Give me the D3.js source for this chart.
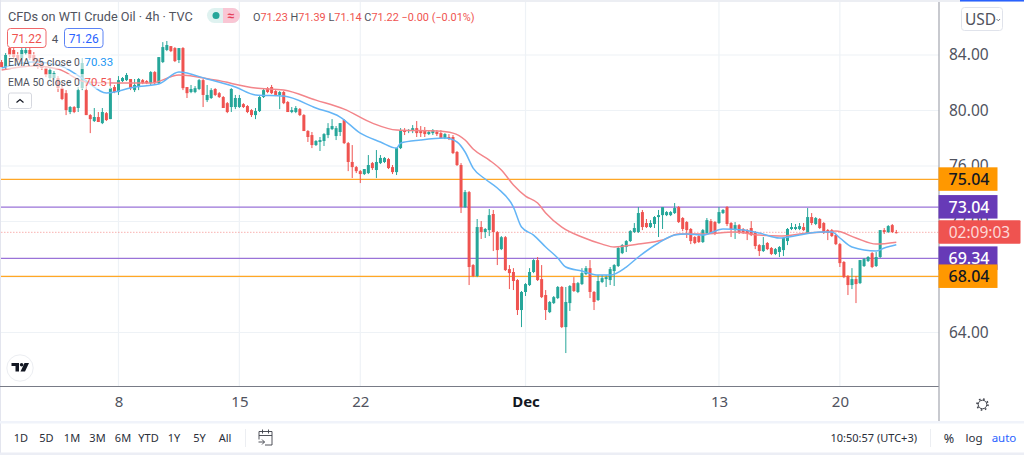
<!DOCTYPE html>
<html>
<head>
<meta charset="utf-8">
<script src="https://cdn.jsdelivr.net/npm/d3@7"></script>
<style>
  html, body { margin: 0; padding: 0; background: #fff; overflow: hidden; }
  svg { display: block; font-family: "Noto Sans", sans-serif; }
  .small { font-family: Roboto, sans-serif; }
</style>
</head>
<body>
<svg id="chart" width="1024" height="455"></svg>
<script>
// 4h candles, one value per bar
const opens = [83.49,83.13,84.50,84.36,84.00,83.78,84.14,84.36,84.00,83.64,
  83.50,83.06,82.34,82.34,82.34,81.61,81.25,79.89,80.25,80.18,
  81.61,81.47,79.67,79.24,79.53,79.09,79.81,79.38,81.69,81.33,
  82.12,82.19,82.27,81.47,81.69,82.19,82.12,81.97,82.77,81.97,
  83.49,84.36,84.64,84.50,83.64,84.50,81.69,81.33,81.33,81.55,
  82.19,80.75,80.90,81.55,81.25,80.97,80.53,80.25,80.25,80.25,
  80.46,80.32,80.03,79.67,79.96,80.97,81.61,81.69,81.40,81.12,
  81.33,80.61,79.89,79.89,80.10,79.67,78.52,78.23,77.51,77.73,
  77.80,78.23,78.66,78.16,78.45,79.31,77.65,76.29,75.92,75.63,
  75.42,75.49,76.21,75.71,76.21,76.29,76.50,75.92,75.56,77.29,
  78.59,78.52,78.52,78.73,78.52,78.52,78.30,78.37,78.45,78.37,
  78.01,78.09,78.09,77.01,76.07,73.04,74.12,68.86,68.07,71.60,
  71.24,71.38,72.54,71.24,70.01,70.87,68.57,68.36,67.78,65.62,
  66.92,67.42,68.36,69.22,67.85,66.70,65.47,66.12,66.48,67.28,
  64.39,66.12,67.56,66.92,67.49,68.21,68.64,66.92,66.34,67.64,
  67.85,67.78,68.43,68.79,69.72,70.16,70.59,71.24,71.24,72.68,
  71.89,71.60,71.82,72.32,72.46,72.46,72.46,72.61,73.04,72.25,
  71.96,71.46,70.88,70.95,70.52,71.17,72.03,71.96,71.89,72.61,
  73.04,71.89,71.38,71.74,71.46,71.38,71.53,71.24,70.30,69.87,
  70.45,70.09,69.66,69.80,69.94,70.59,71.46,71.46,71.46,71.60,
  71.17,72.32,71.82,72.18,71.89,71.38,71.38,71.02,70.37,69.08,
  68.07,67.42,67.85,67.56,68.79,69.15,69.72,68.79,69.44,71.38,
  71.24,71.74,71.23];
const highs = [83.64,84.14,84.64,84.50,84.21,84.57,84.64,84.57,84.21,83.78,
  83.64,83.20,83.06,82.84,82.48,81.97,81.47,80.32,80.32,81.69,
  83.78,82.19,79.74,80.18,79.89,80.18,79.89,81.97,81.84,82.48,
  82.41,82.70,82.27,82.27,82.34,82.27,82.19,82.84,82.84,83.85,
  84.93,85.01,84.64,84.57,84.50,84.57,81.69,81.84,81.76,82.27,
  82.27,81.84,81.61,81.61,81.33,81.04,80.61,81.61,81.12,81.12,
  80.53,80.39,80.10,80.18,81.04,81.55,81.69,81.84,81.47,81.40,
  81.40,80.68,80.25,80.32,80.18,79.74,78.59,78.45,77.87,78.09,
  78.37,79.09,79.38,78.88,79.09,79.38,77.73,77.51,76.00,75.71,
  75.78,76.79,76.29,77.15,76.79,76.65,76.58,76.07,77.29,78.73,
  78.73,78.66,78.95,79.24,78.88,78.81,78.59,78.66,78.59,78.59,
  78.37,78.30,78.23,77.08,76.21,74.27,74.20,68.93,72.18,72.03,
  71.53,72.90,72.83,71.31,70.95,70.95,68.86,68.64,67.85,66.99,
  67.56,68.64,69.29,69.44,68.86,67.06,66.27,66.63,67.35,67.35,
  67.28,67.42,67.99,67.64,68.64,68.79,69.22,66.99,68.14,68.14,
  68.14,68.72,68.93,70.16,70.37,70.66,71.38,71.89,73.04,72.83,
  72.18,72.10,72.39,72.83,73.04,72.75,72.75,73.33,73.11,72.32,
  72.03,71.53,70.95,71.02,71.46,72.25,72.18,72.03,73.04,72.90,
  73.11,71.96,71.96,71.82,71.53,71.46,72.03,71.31,70.37,70.88,
  70.52,70.16,70.09,70.23,70.81,71.53,71.89,71.82,71.89,71.89,
  72.97,72.61,72.32,72.25,71.96,71.46,71.46,71.10,70.45,69.15,
  68.14,68.64,68.07,69.22,69.37,69.51,69.80,69.80,71.38,71.53,
  71.74,71.82,71.39];
const lows = [83.13,82.99,83.85,83.71,83.49,83.64,84.00,83.64,83.28,82.99,
  82.92,82.41,82.19,82.19,81.33,80.75,79.67,79.74,79.81,79.89,
  81.47,79.67,78.37,79.17,79.17,79.02,79.24,79.38,81.25,81.12,
  82.05,82.12,81.47,81.33,81.47,81.90,81.90,81.84,81.90,81.90,
  83.42,84.28,84.21,83.49,83.42,81.47,80.90,81.25,81.25,81.47,
  80.25,80.61,80.83,81.04,80.90,80.18,79.81,79.89,80.10,80.18,
  80.18,79.81,79.53,79.38,79.89,80.90,81.25,81.18,81.04,80.10,
  80.46,79.89,79.81,79.81,79.60,78.52,77.73,77.29,77.44,77.08,
  77.44,78.01,78.59,77.87,78.16,77.58,75.63,75.13,75.49,74.77,
  75.35,75.42,75.71,75.13,76.14,76.21,75.78,75.42,75.35,77.22,
  78.23,78.37,78.37,78.09,78.09,78.09,78.23,78.23,78.16,78.01,
  77.94,77.87,76.86,76.00,72.61,72.97,67.42,67.99,67.99,70.74,
  70.81,70.95,69.87,68.86,69.94,68.43,67.13,67.06,65.26,64.39,
  66.63,67.35,68.28,67.71,66.48,64.90,65.40,66.05,66.41,64.32,
  62.52,65.55,66.92,66.84,67.42,68.14,66.48,65.62,66.27,67.56,
  67.28,67.42,67.35,68.72,69.65,69.80,70.52,71.17,71.17,71.38,
  71.53,71.53,71.53,70.88,71.46,72.39,72.39,72.54,71.89,71.31,
  70.81,70.37,70.37,70.45,70.45,71.10,71.17,71.02,71.82,72.54,
  71.67,70.88,70.74,71.10,71.10,70.66,70.95,70.01,69.51,69.80,
  69.94,69.58,69.58,69.44,69.51,70.30,71.38,71.38,71.38,71.31,
  71.10,71.74,71.74,71.46,71.10,70.66,70.88,70.30,68.72,67.92,
  66.70,67.13,66.12,67.49,68.72,69.08,68.64,68.72,69.37,71.10,
  71.17,71.17,71.14];
const closes = [83.13,84.00,84.00,83.85,83.64,84.36,84.36,83.78,83.42,83.13,
  83.06,82.56,82.92,82.70,81.61,80.83,80.03,80.25,79.89,81.47,
  83.42,79.67,79.38,79.53,79.17,79.89,79.31,81.61,81.33,82.19,
  82.34,82.56,81.61,81.84,82.27,81.97,81.97,82.77,81.97,83.85,
  84.57,84.72,84.28,83.56,84.50,81.61,81.25,81.55,81.61,82.19,
  81.12,81.12,81.47,81.12,80.97,80.18,79.89,81.55,80.90,80.90,
  80.25,79.89,79.67,79.96,80.97,81.47,81.33,81.25,81.12,81.33,
  80.53,79.89,80.03,80.18,79.67,78.52,78.09,77.51,77.80,77.87,
  78.30,78.73,78.88,78.73,79.09,77.65,76.29,75.92,75.63,75.42,
  75.78,76.07,75.85,76.29,76.58,76.58,75.85,75.56,77.29,78.59,
  78.45,78.59,78.73,78.37,78.37,78.30,78.45,78.59,78.30,78.01,
  78.30,78.01,76.93,76.07,73.04,74.12,68.72,68.07,71.60,71.24,
  71.46,72.46,71.24,69.94,70.87,68.50,68.28,67.71,65.62,66.92,
  67.49,68.36,69.22,67.78,66.55,65.62,66.20,66.55,67.28,64.39,
  66.20,67.35,66.99,67.56,68.28,68.64,66.92,66.20,67.71,67.92,
  67.99,68.57,68.86,70.09,70.30,70.59,71.31,71.53,72.61,71.60,
  71.60,71.89,72.32,72.46,73.04,72.68,72.68,72.97,71.96,71.46,
  71.38,70.59,70.45,70.52,71.38,72.10,71.17,71.10,72.68,72.83,
  71.82,71.46,71.74,71.17,71.17,71.17,71.02,70.23,69.87,70.30,
  70.01,69.66,70.01,70.16,70.81,71.46,71.60,71.60,71.67,71.38,
  72.32,71.89,72.25,71.53,71.17,71.17,70.95,70.37,69.00,67.99,
  67.42,67.85,67.49,69.22,69.29,69.44,68.72,69.44,71.38,71.24,
  71.67,71.24,71.22];

// EMA readings, each at the bar listed beside it
const ema25Bars = [0,8,14,20,26,33,39,44,51,58,63,70,78,84,89,94,98,99,104,110,113,115,117,120,123,127,129,132,135,138,140,144,148,151,155,158,163,167,170,174,179,184,188,193,198,203,206,208,211,217,219,222];
const ema25 = [83.06,83.49,83.28,82.34,81.26,81.69,81.91,82.77,82.27,81.69,81.12,81.04,80.18,79.53,78.37,77.73,77.29,77.65,77.87,78.01,77.73,77.01,75.85,75.06,74.41,73.04,71.60,71.02,70.16,69.37,68.72,68.43,68.14,68.14,68.72,69.44,70.45,71.02,71.10,71.02,71.46,71.38,71.17,70.81,71.02,71.24,71.24,70.81,70.16,69.87,70.09,70.33];
const ema50Bars = [0,8,14,21,28,37,44,53,63,70,78,85,92,98,108,112,115,117,121,124,127,130,133,135,139,144,149,152,158,164,168,174,182,188,193,200,204,207,212,217,222];
const ema50 = [82.92,83.20,82.99,82.05,81.98,81.98,82.55,82.19,81.62,81.47,80.75,80.10,79.09,78.59,78.52,78.37,77.87,77.22,76.43,75.71,74.63,73.83,73.33,72.61,71.60,70.88,70.37,70.16,70.37,70.66,71.10,71.10,71.24,71.02,70.95,71.17,71.24,71.31,70.81,70.37,70.51];

// horizontal levels and their price tags
const levelPrices = [75.04, 73.04, 69.34, 68.04];
const levelKinds = ["orange", "purple", "purple", "orange"];
const lastPrice = 71.22;
const countdown = "02:09:03";

const priceTicks = [84, 80, 76, 72, 68, 64];
// 68.00 is covered by the 68.04 tag, so it gets no label
const priceLabels = [84, 80, 76, 72, 64];
const timeTickBars = [29, 59, 89, 130, 178, 208];
const timeTickLabels = ["8", "15", "22", "Dec", "13", "20"];

const rangeButtons = ["1D", "5D", "1M", "3M", "6M", "YTD", "1Y", "5Y", "All"];

const width = 1024;
const height = 455;
const plotRight = 939;
const plotBottom = 386.5;

const red = "#ef5350";
const green = "#26a69a";

const svg = d3.select("#chart");

const x = d3.scaleLinear().domain([0, 222]).range([1.6, 896.3]);
const y = d3.scaleLinear().domain([64, 84]).range([332.5, 55]);

const levelStroke = d3.scaleOrdinal(["orange", "purple"], ["#ffa726", "#9a73d8"]);
const tagFill = d3.scaleOrdinal(["orange", "purple"], ["#ff9800", "#673ab7"]);
const tagText = d3.scaleOrdinal(["orange", "purple"], ["#131722", "#ffffff"]);

// frame around the widget
svg.append("rect").attr("x", 0).attr("y", 0).attr("width", width).attr("height", 2).attr("fill", "#eceef3");
svg.append("rect").attr("x", 960).attr("y", 0).attr("width", 64).attr("height", 1.5).attr("fill", "#2962ff");
svg.append("rect").attr("x", 0).attr("y", 0).attr("width", 1).attr("height", height).attr("fill", "#e3e5ee");
svg.append("rect").attr("x", 0).attr("y", 421).attr("width", width).attr("height", 2.5).attr("fill", "#f0f3fa");
svg.append("rect").attr("x", 0).attr("y", 452.5).attr("width", width).attr("height", 2.5).attr("fill", "#eceef5");

// grid
svg.append("g")
  .selectAll("line")
  .data(priceTicks)
  .join("line")
  .attr("x1", 1)
  .attr("x2", plotRight)
  .attr("y1", (d) => y(d))
  .attr("y2", (d) => y(d))
  .attr("stroke", "#eef2f6")
  .attr("stroke-width", 1.2);

svg.append("g")
  .selectAll("line")
  .data(timeTickBars)
  .join("line")
  .attr("x1", (d) => x(d))
  .attr("x2", (d) => x(d))
  .attr("y1", 2)
  .attr("y2", plotBottom)
  .attr("stroke", "#eef2f6")
  .attr("stroke-width", 1.2);

// level lines sit under the candles
svg.append("g")
  .selectAll("line")
  .data(levelPrices)
  .join("line")
  .attr("x1", 1)
  .attr("x2", plotRight)
  .attr("y1", (d) => y(d))
  .attr("y2", (d) => y(d))
  .attr("stroke", (d, i) => levelStroke(levelKinds[i]))
  .attr("stroke-width", 1.2);

svg.append("line")
  .attr("x1", 1)
  .attr("x2", plotRight)
  .attr("y1", y(lastPrice))
  .attr("y2", y(lastPrice))
  .attr("stroke", red)
  .attr("stroke-opacity", 0.45)
  .attr("stroke-dasharray", "1.5 1.5");

// candles
const bars = d3.range(opens.length);
const candles = svg.append("g");

candles
  .selectAll("line")
  .data(bars)
  .join("line")
  .attr("x1", (i) => x(i))
  .attr("x2", (i) => x(i))
  .attr("y1", (i) => y(highs[i]))
  .attr("y2", (i) => y(lows[i]))
  .attr("stroke", (i) => (closes[i] >= opens[i] ? green : red))
  .attr("stroke-width", 1);

candles
  .selectAll("rect")
  .data(bars)
  .join("rect")
  .attr("x", (i) => x(i) - 1.5)
  .attr("width", 3)
  .attr("y", (i) => y(Math.max(opens[i], closes[i])))
  .attr("height", (i) => Math.max(1, Math.abs(y(opens[i]) - y(closes[i]))))
  .attr("fill", (i) => (closes[i] >= opens[i] ? green : red));

// EMA lines
const emaLine = (barIdx) =>
  d3
    .line()
    .x((d, i) => x(barIdx[i]))
    .y((d) => y(d))
    .curve(d3.curveMonotoneX);

svg.append("path")
  .datum(ema50)
  .attr("fill", "none")
  .attr("stroke", "#f3858a")
  .attr("stroke-width", 1.5)
  .attr("d", emaLine(ema50Bars));

svg.append("path")
  .datum(ema25)
  .attr("fill", "none")
  .attr("stroke", "#64b5f6")
  .attr("stroke-width", 1.5)
  .attr("d", emaLine(ema25Bars));

// axis lines
svg.append("line").attr("x1", 0).attr("x2", plotRight).attr("y1", plotBottom).attr("y2", plotBottom).attr("stroke", "#787b86");
svg.append("line").attr("x1", plotRight).attr("x2", plotRight).attr("y1", 2).attr("y2", 421).attr("stroke", "#a3a6af").attr("stroke-width", 1.2);

// price axis
const yAxis = svg.append("g")
  .attr("transform", `translate(${plotRight},0)`)
  .call(d3.axisRight(y).tickValues(priceLabels).tickSize(0).tickPadding(10).tickFormat(d3.format(".2f")));
yAxis.select(".domain").remove();
yAxis.selectAll("text")
  .attr("fill", "#50535e")
  .style("font-family", '"Noto Sans", sans-serif')
  .style("font-size", "15.5px");

// time axis
const xAxis = svg.append("g")
  .attr("transform", `translate(0,${plotBottom})`)
  .call(d3.axisBottom(x).tickValues(timeTickBars).tickSize(0).tickPadding(10).tickFormat((d, i) => timeTickLabels[i]));
xAxis.select(".domain").remove();
xAxis.selectAll("text")
  .attr("fill", (d, i) => (timeTickLabels[i] === "Dec" ? "#131722" : "#50535e"))
  .style("font-family", '"Noto Sans", sans-serif')
  .style("font-weight", (d, i) => (timeTickLabels[i] === "Dec" ? 700 : 400))
  .style("font-size", "15px");

// price tags on the scale
const tags = svg.append("g");
tags.selectAll("rect")
  .data(levelPrices)
  .join("rect")
  .attr("x", plotRight - 0.5)
  .attr("y", (d) => y(d) - 12)
  .attr("width", 59)
  .attr("height", 23.5)
  .attr("fill", (d, i) => tagFill(levelKinds[i]));
tags.selectAll("text")
  .data(levelPrices)
  .join("text")
  .attr("x", plotRight + 30)
  .attr("y", (d) => y(d) + 6)
  .attr("text-anchor", "middle")
  .attr("font-size", 16)
  .attr("font-weight", 500)
  .attr("fill", (d, i) => tagText(levelKinds[i]))
  .text((d) => d.toFixed(2));

svg.append("rect")
  .attr("x", plotRight - 0.5)
  .attr("y", y(lastPrice) - 12)
  .attr("width", 82)
  .attr("height", 23.5)
  .attr("rx", 1)
  .attr("fill", red);
svg.append("text")
  .attr("x", plotRight + 40.5)
  .attr("y", y(lastPrice) + 5.5)
  .attr("text-anchor", "middle")
  .attr("font-size", 15.5)
  .attr("fill", "#fdd8d7")
  .text(countdown);

// USD button
svg.append("rect").attr("x", 961.5).attr("y", 7.5).attr("width", 41).attr("height", 23).attr("rx", 3).attr("fill", "#fff").attr("stroke", "#e0e3eb");
svg.append("text").attr("x", 965).attr("y", 25).attr("font-size", 15.5).attr("fill", "#50535e").text("USD");
svg.append("path").attr("d", "M996.5 19 l1.8 1.8 l1.8 -1.8").attr("fill", "none").attr("stroke", "#50535e").attr("stroke-width", 0.8);

// title row
svg.append("text").attr("class", "small").attr("x", 8).attr("y", 21).attr("font-size", 12.7).attr("fill", "#50535e").text("CFDs on WTI Crude Oil · 4h · TVC");
svg.append("rect").attr("x", 207).attr("y", 8).attr("width", 33).attr("height", 15).attr("rx", 7.5).attr("fill", "#dff2f0");
svg.append("path").attr("d", "M223 8 h9.5 a7.5 7.5 0 0 1 0 15 h-9.5 z").attr("fill", "#f9c6d4");
svg.append("circle").attr("cx", 216).attr("cy", 15.5).attr("r", 3.5).attr("fill", green);
svg.append("text").attr("x", 231).attr("y", 19.5).attr("text-anchor", "middle").attr("font-size", 12).attr("font-weight", 700).attr("fill", "#e53e58").text("≈");

const ohlcText = svg.append("text").attr("class", "small").attr("x", 253).attr("y", 20.5).attr("font-size", 10.9).attr("fill", "#50535e");
ohlcText.append("tspan").text("O");
ohlcText.append("tspan").attr("fill", red).text("71.23");
ohlcText.append("tspan").text(" H");
ohlcText.append("tspan").attr("fill", red).text("71.39");
ohlcText.append("tspan").text(" L");
ohlcText.append("tspan").attr("fill", red).text("71.14");
ohlcText.append("tspan").text(" C");
ohlcText.append("tspan").attr("fill", red).text("71.22 −0.00 (−0.01%)");

// bid / ask boxes
svg.append("rect").attr("x", 7.5).attr("y", 28.5).attr("width", 38.5).attr("height", 19).attr("rx", 3).attr("fill", "#fff").attr("stroke", "#f0686a");
svg.append("text").attr("class", "small").attr("x", 26.7).attr("y", 42.5).attr("text-anchor", "middle").attr("font-size", 12).attr("fill", red).text("71.22");
svg.append("text").attr("class", "small").attr("x", 55).attr("y", 42.5).attr("text-anchor", "middle").attr("font-size", 11.5).attr("fill", "#50535e").text("4");
svg.append("rect").attr("x", 64.5).attr("y", 28.5).attr("width", 38.5).attr("height", 19).attr("rx", 3).attr("fill", "#fff").attr("stroke", "#5b82f5");
svg.append("text").attr("class", "small").attr("x", 83.7).attr("y", 42.5).attr("text-anchor", "middle").attr("font-size", 12).attr("fill", "#2962ff").text("71.26");

// indicator legend, candles fade behind it
svg.append("rect").attr("x", 7).attr("y", 54).attr("width", 104).attr("height", 15).attr("fill", "#fff").attr("fill-opacity", 0.6);
svg.append("rect").attr("x", 7).attr("y", 74).attr("width", 104).attr("height", 15).attr("fill", "#fff").attr("fill-opacity", 0.6);
svg.append("text").attr("class", "small").attr("x", 8).attr("y", 66).attr("font-size", 10.4).attr("fill", "#50535e").text("EMA 25 close 0");
svg.append("text").attr("class", "small").attr("x", 84.5).attr("y", 66).attr("font-size", 11.4).attr("fill", "#2196f3").text("70.33");
svg.append("text").attr("class", "small").attr("x", 8).attr("y", 86).attr("font-size", 10.4).attr("fill", "#50535e").text("EMA 50 close 0");
svg.append("text").attr("class", "small").attr("x", 84.5).attr("y", 86).attr("font-size", 11.4).attr("fill", red).text("70.51");
svg.append("rect").attr("x", 8.5).attr("y", 93).attr("width", 23).attr("height", 15.5).attr("rx", 2).attr("fill", "#fff").attr("stroke", "#d6d8df");
svg.append("path").attr("d", "M16.5 102.5 l3.5 -3 l3.5 3").attr("fill", "none").attr("stroke", "#131722").attr("stroke-width", 1.2);

// logo
svg.append("circle").attr("cx", 20).attr("cy", 368).attr("r", 13.2).attr("fill", "#fff").attr("stroke", "#eceef2");
svg.append("path").attr("d", "M11.5 363 h7.5 v8.5 h-3.5 v-5.5 h-4 z M24.5 363 h4.5 l-4 8.5 h-4.5 z").attr("fill", "#131722");
svg.append("circle").attr("cx", 21.6).attr("cy", 364.8).attr("r", 1.8).attr("fill", "#131722");

// gear
svg.append("circle").attr("cx", 982.5).attr("cy", 404.5).attr("r", 4.3).attr("fill", "none").attr("stroke", "#3c3f48").attr("stroke-width", 1);
svg.append("circle").attr("cx", 982.5).attr("cy", 404.5).attr("r", 5.5).attr("fill", "none").attr("stroke", "#3c3f48").attr("stroke-width", 1.6).attr("stroke-dasharray", "1.6 2.72");

// bottom toolbar
const buttonX = d3.scalePoint().domain(rangeButtons).range([21, 225]);
svg.append("g")
  .selectAll("text")
  .data(rangeButtons)
  .join("text")
  .attr("x", (d) => buttonX(d))
  .attr("y", 442)
  .attr("text-anchor", "middle")
  .attr("font-size", 11)
  .attr("fill", "#2a2e39")
  .text((d) => d);

svg.append("line").attr("x1", 245.5).attr("x2", 245.5).attr("y1", 429).attr("y2", 447).attr("stroke", "#eceef2");
svg.append("path")
  .attr("d", "M259 431.5 h13 v13.5 h-7 M259 431.5 v8 M259 435.5 h13 M262.5 429.5 v4 M268.5 429.5 v4 M258.5 442 h6 M262 439.5 l2.5 2.5 l-2.5 2.5")
  .attr("fill", "none")
  .attr("stroke", "#3c3f48")
  .attr("stroke-width", 0.9);

svg.append("text").attr("x", 917).attr("y", 442).attr("text-anchor", "end").attr("font-size", 11).attr("fill", "#2a2e39").text("10:50:57 (UTC+3)");
svg.append("line").attr("x1", 930.5).attr("x2", 930.5).attr("y1", 429).attr("y2", 447).attr("stroke", "#eceef2");
svg.append("text").attr("x", 949).attr("y", 442.5).attr("text-anchor", "middle").attr("font-size", 12.5).attr("fill", "#2a2e39").text("%");
svg.append("text").attr("x", 974).attr("y", 442).attr("text-anchor", "middle").attr("font-size", 11.5).attr("fill", "#2a2e39").text("log");
svg.append("text").attr("x", 1004).attr("y", 442).attr("text-anchor", "middle").attr("font-size", 11.5).attr("fill", "#2962ff").text("auto");
</script>
</body>
</html>
